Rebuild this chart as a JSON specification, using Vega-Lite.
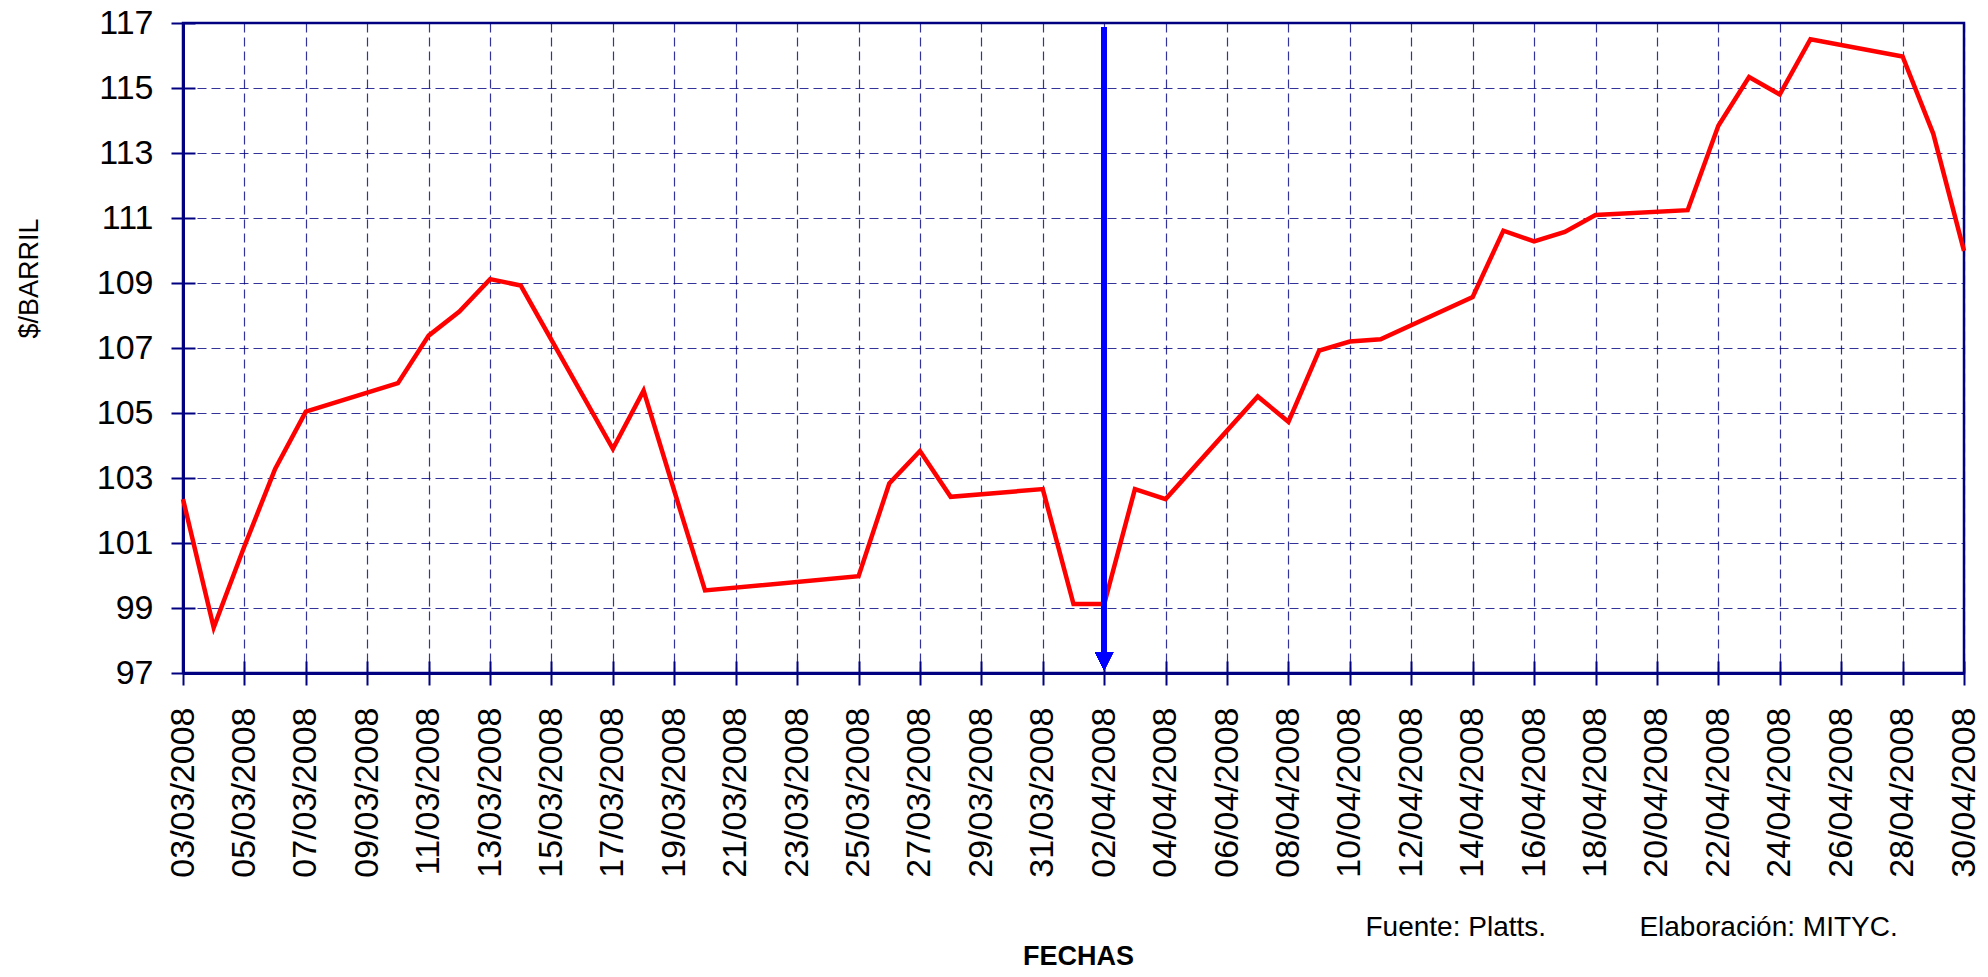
{
  "$schema": "https://vega.github.io/schema/vega-lite/v6.json",
  "width": 1781,
  "height": 650,
  "autosize": {"type": "none"},
  "padding": {"left": 183, "top": 23, "right": 24, "bottom": 304},
  "background": "white",
  "config": {
    "view": {"stroke": "#000080", "strokeWidth": 2.5},
    "font": "Liberation Sans"
  },
  "data": {
    "values": [
      {"fecha": "2008-03-03", "precio": 102.35},
      {"fecha": "2008-03-04", "precio": 98.4},
      {"fecha": "2008-03-05", "precio": 100.9},
      {"fecha": "2008-03-06", "precio": 103.28},
      {"fecha": "2008-03-07", "precio": 105.04},
      {"fecha": "2008-03-10", "precio": 105.92},
      {"fecha": "2008-03-11", "precio": 107.38},
      {"fecha": "2008-03-12", "precio": 108.12},
      {"fecha": "2008-03-13", "precio": 109.12},
      {"fecha": "2008-03-14", "precio": 108.92},
      {"fecha": "2008-03-17", "precio": 103.9},
      {"fecha": "2008-03-18", "precio": 105.69},
      {"fecha": "2008-03-19", "precio": 102.6},
      {"fecha": "2008-03-20", "precio": 99.54},
      {"fecha": "2008-03-25", "precio": 99.98},
      {"fecha": "2008-03-26", "precio": 102.83},
      {"fecha": "2008-03-27", "precio": 103.83},
      {"fecha": "2008-03-28", "precio": 102.42},
      {"fecha": "2008-03-31", "precio": 102.66},
      {"fecha": "2008-04-01", "precio": 99.12},
      {"fecha": "2008-04-02", "precio": 99.12},
      {"fecha": "2008-04-03", "precio": 102.66},
      {"fecha": "2008-04-04", "precio": 102.35},
      {"fecha": "2008-04-07", "precio": 105.51},
      {"fecha": "2008-04-08", "precio": 104.73},
      {"fecha": "2008-04-09", "precio": 106.92},
      {"fecha": "2008-04-10", "precio": 107.2},
      {"fecha": "2008-04-11", "precio": 107.27},
      {"fecha": "2008-04-14", "precio": 108.57},
      {"fecha": "2008-04-15", "precio": 110.61},
      {"fecha": "2008-04-16", "precio": 110.28},
      {"fecha": "2008-04-17", "precio": 110.57},
      {"fecha": "2008-04-18", "precio": 111.09},
      {"fecha": "2008-04-21", "precio": 111.24},
      {"fecha": "2008-04-22", "precio": 113.84},
      {"fecha": "2008-04-23", "precio": 115.34},
      {"fecha": "2008-04-24", "precio": 114.8},
      {"fecha": "2008-04-25", "precio": 116.5},
      {"fecha": "2008-04-28", "precio": 115.97},
      {"fecha": "2008-04-29", "precio": 113.59},
      {"fecha": "2008-04-30", "precio": 109.99}
    ]
  },
  "resolve": {"axis": {"x": "independent", "y": "independent"}},
  "layer": [
    {
      "mark": {"type": "line", "color": "#FF0000", "strokeWidth": 4.5},
      "encoding": {
        "x": {
          "field": "fecha",
          "type": "temporal",
          "scale": {
            "type": "utc",
            "nice": false,
            "domain": [
              {"year": 2008, "month": 3, "date": 3, "utc": true},
              {"year": 2008, "month": 4, "date": 30, "utc": true}
            ]
          },
          "axis": {
            "orient": "bottom",
            "values": [
              {"year": 2008, "month": 3, "date": 3, "utc": true},
              {"year": 2008, "month": 3, "date": 5, "utc": true},
              {"year": 2008, "month": 3, "date": 7, "utc": true},
              {"year": 2008, "month": 3, "date": 9, "utc": true},
              {"year": 2008, "month": 3, "date": 11, "utc": true},
              {"year": 2008, "month": 3, "date": 13, "utc": true},
              {"year": 2008, "month": 3, "date": 15, "utc": true},
              {"year": 2008, "month": 3, "date": 17, "utc": true},
              {"year": 2008, "month": 3, "date": 19, "utc": true},
              {"year": 2008, "month": 3, "date": 21, "utc": true},
              {"year": 2008, "month": 3, "date": 23, "utc": true},
              {"year": 2008, "month": 3, "date": 25, "utc": true},
              {"year": 2008, "month": 3, "date": 27, "utc": true},
              {"year": 2008, "month": 3, "date": 29, "utc": true},
              {"year": 2008, "month": 3, "date": 31, "utc": true},
              {"year": 2008, "month": 4, "date": 2, "utc": true},
              {"year": 2008, "month": 4, "date": 4, "utc": true},
              {"year": 2008, "month": 4, "date": 6, "utc": true},
              {"year": 2008, "month": 4, "date": 8, "utc": true},
              {"year": 2008, "month": 4, "date": 10, "utc": true},
              {"year": 2008, "month": 4, "date": 12, "utc": true},
              {"year": 2008, "month": 4, "date": 14, "utc": true},
              {"year": 2008, "month": 4, "date": 16, "utc": true},
              {"year": 2008, "month": 4, "date": 18, "utc": true},
              {"year": 2008, "month": 4, "date": 20, "utc": true},
              {"year": 2008, "month": 4, "date": 22, "utc": true},
              {"year": 2008, "month": 4, "date": 24, "utc": true},
              {"year": 2008, "month": 4, "date": 26, "utc": true},
              {"year": 2008, "month": 4, "date": 28, "utc": true},
              {"year": 2008, "month": 4, "date": 30, "utc": true}
            ],
            "format": "%d/%m/%Y",
            "labelAngle": 270,
            "labelFont": "Liberation Sans",
            "labelFontSize": 34,
            "labelColor": "#000000",
            "labelPadding": 22,
            "labelOverlap": false,
            "labelFlush": false,
            "labelBound": false,
            "tickSize": 12,
            "tickWidth": 2,
            "tickColor": "#000080",
            "domainColor": "#000080",
            "domainWidth": 3,
            "grid": true,
            "gridColor": "#000080",
            "gridDash": [9, 5],
            "gridWidth": 1.2,
            "gridOpacity": 0.8,
            "title": "FECHAS",
            "titleFont": "Liberation Sans",
            "titleFontSize": 27,
            "titleFontWeight": "bold",
            "titleColor": "#000000",
            "titleX": 895,
            "titleY": 291,
            "titleAlign": "center",
            "titleBaseline": "alphabetic"
          }
        },
        "y": {
          "field": "precio",
          "type": "quantitative",
          "scale": {"domain": [97, 117], "nice": false, "zero": false},
          "axis": {
            "orient": "left",
            "values": [97, 99, 101, 103, 105, 107, 109, 111, 113, 115, 117],
            "labelFont": "Liberation Sans",
            "labelFontSize": 34,
            "labelColor": "#000000",
            "labelPadding": 18,
            "labelFlush": false,
            "labelOverlap": false,
            "tickSize": 12,
            "tickWidth": 2,
            "tickColor": "#000080",
            "domainColor": "#000080",
            "domainWidth": 3,
            "grid": true,
            "gridColor": "#000080",
            "gridDash": [9, 5],
            "gridWidth": 1.2,
            "gridOpacity": 0.8,
            "title": "$/BARRIL",
            "titleFont": "Liberation Sans",
            "titleFontSize": 27,
            "titleFontWeight": "normal",
            "titleColor": "#000000",
            "titleAngle": 270,
            "titleX": -154,
            "titleY": 255,
            "titleAlign": "center",
            "titleBaseline": "middle"
          }
        }
      }
    },
    {
      "mark": {"type": "rule", "color": "#0000FF", "strokeWidth": 5},
      "encoding": {
        "x": {
          "datum": {"year": 2008, "month": 4, "date": 2, "utc": true},
          "type": "temporal",
          "axis": {
            "orient": "bottom",
            "values": [
              {"year": 2008, "month": 3, "date": 3, "utc": true},
              {"year": 2008, "month": 3, "date": 5, "utc": true},
              {"year": 2008, "month": 3, "date": 7, "utc": true},
              {"year": 2008, "month": 3, "date": 9, "utc": true},
              {"year": 2008, "month": 3, "date": 11, "utc": true},
              {"year": 2008, "month": 3, "date": 13, "utc": true},
              {"year": 2008, "month": 3, "date": 15, "utc": true},
              {"year": 2008, "month": 3, "date": 17, "utc": true},
              {"year": 2008, "month": 3, "date": 19, "utc": true},
              {"year": 2008, "month": 3, "date": 21, "utc": true},
              {"year": 2008, "month": 3, "date": 23, "utc": true},
              {"year": 2008, "month": 3, "date": 25, "utc": true},
              {"year": 2008, "month": 3, "date": 27, "utc": true},
              {"year": 2008, "month": 3, "date": 29, "utc": true},
              {"year": 2008, "month": 3, "date": 31, "utc": true},
              {"year": 2008, "month": 4, "date": 2, "utc": true},
              {"year": 2008, "month": 4, "date": 4, "utc": true},
              {"year": 2008, "month": 4, "date": 6, "utc": true},
              {"year": 2008, "month": 4, "date": 8, "utc": true},
              {"year": 2008, "month": 4, "date": 10, "utc": true},
              {"year": 2008, "month": 4, "date": 12, "utc": true},
              {"year": 2008, "month": 4, "date": 14, "utc": true},
              {"year": 2008, "month": 4, "date": 16, "utc": true},
              {"year": 2008, "month": 4, "date": 18, "utc": true},
              {"year": 2008, "month": 4, "date": 20, "utc": true},
              {"year": 2008, "month": 4, "date": 22, "utc": true},
              {"year": 2008, "month": 4, "date": 24, "utc": true},
              {"year": 2008, "month": 4, "date": 26, "utc": true},
              {"year": 2008, "month": 4, "date": 28, "utc": true},
              {"year": 2008, "month": 4, "date": 30, "utc": true}
            ],
            "labels": false,
            "domain": false,
            "grid": false,
            "tickSize": -12,
            "tickWidth": 2,
            "tickColor": "#000080",
            "title": "Fuente: Platts.\u00a0\u00a0\u00a0\u00a0\u00a0\u00a0\u00a0\u00a0\u00a0\u00a0\u00a0\u00a0Elaboración: MITYC.",
            "titleFont": "Liberation Sans",
            "titleFontSize": 28,
            "titleFontWeight": "normal",
            "titleColor": "#000000",
            "titleX": 1182,
            "titleY": 262,
            "titleAlign": "left",
            "titleBaseline": "alphabetic"
          }
        },
        "y": {
          "datum": 116.88,
          "type": "quantitative",
          "axis": {
            "orient": "left",
            "values": [97, 99, 101, 103, 105, 107, 109, 111, 113, 115, 117],
            "labels": false,
            "domain": false,
            "grid": false,
            "tickSize": -12,
            "tickWidth": 2,
            "tickColor": "#000080",
            "title": null
          }
        },
        "y2": {"datum": 97.65}
      }
    },
    {
      "mark": {
        "type": "point",
        "shape": "M-1,-1L1,-1L0,1Z",
        "size": 324,
        "filled": true,
        "color": "#0000FF",
        "opacity": 1
      },
      "encoding": {
        "x": {
          "datum": {"year": 2008, "month": 4, "date": 2, "utc": true},
          "type": "temporal",
          "axis": null
        },
        "y": {"datum": 97.37, "type": "quantitative", "axis": null}
      }
    }
  ]
}
